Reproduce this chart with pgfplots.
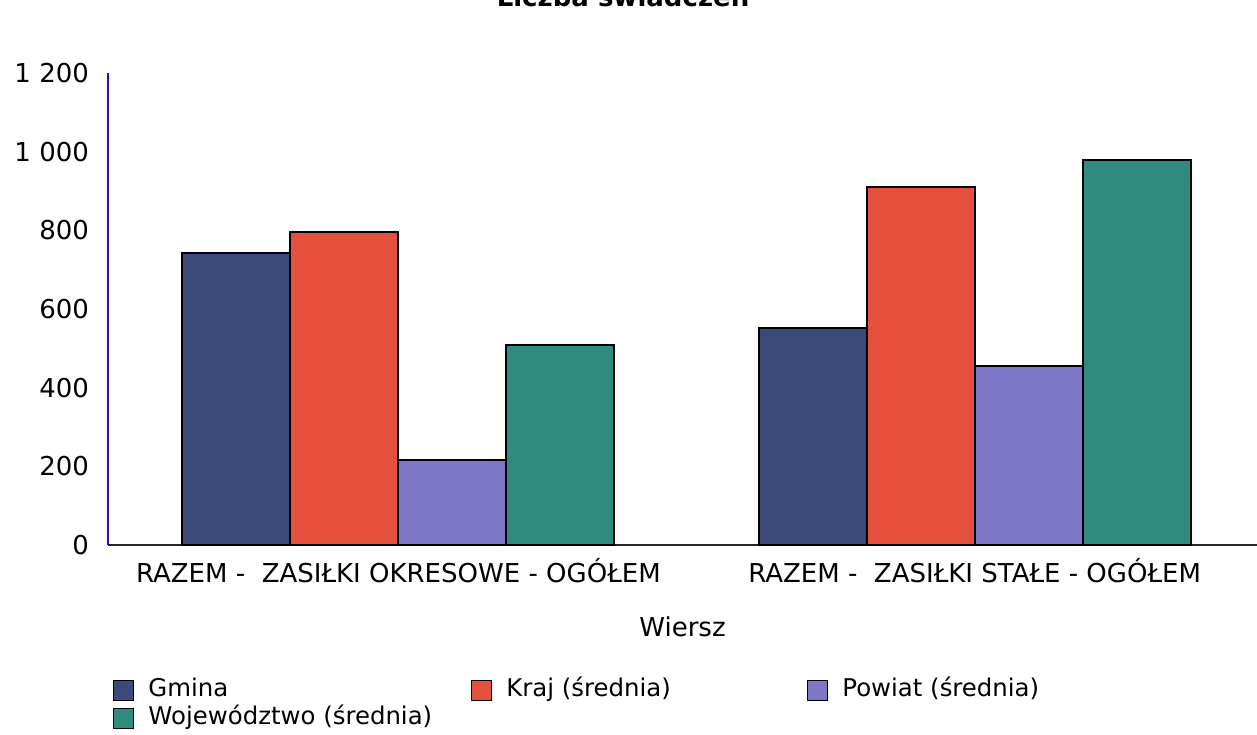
\documentclass[border=0pt]{standalone}
\usepackage{pgfplots}
\pgfplotsset{compat=1.18}
\usepackage{pgfplotstable}
\usepackage{fontspec}
\setmainfont{DejaVu Sans}

\definecolor{cGmina}{HTML}{3A4A7A}
\definecolor{cKraj}{HTML}{E4503C}
\definecolor{cPowiat}{HTML}{7E76C6}
\definecolor{cWoj}{HTML}{2F8A80}

% wartosci
\pgfplotstableread{
x Gmina Kraj Powiat Woj
0 742 796 216 508
1 552 910 455 979
}\dane

\begin{document}
\begin{tikzpicture}
\begin{axis}[
    at={(0pt,0pt)}, anchor=south west,
    scale only axis,
    width=574.5pt, height=236pt,
    ybar=0pt, bar width=54pt,
    xmin=-0.504, xmax=1.49,
    ymin=0, ymax=1200,
    xtick={0,1},
    xticklabels={RAZEM -\ \ ZASIŁKI OKRESOWE - OGÓŁEM, RAZEM -\ \ ZASIŁKI STAŁE - OGÓŁEM},
    ytick={0,200,...,1200},
    major tick length=0pt,
    axis x line*=bottom, axis y line*=left,
    x axis line style={black!85, line width=1.2pt},
    y axis line style={color=blue!55!violet, line width=0.7pt},
    /pgf/number format/assume math mode=true,
    /pgf/number format/1000 sep={\ },
    ticklabel style={font=\fontsize{13}{15}\selectfont},
    yticklabel style={xshift=-6pt},
    xticklabel style={inner sep=0pt, text height=9.5pt, yshift=-9pt},
    xlabel={Wiersz},
    xlabel style={at={(axis description cs:0.5,0)}, anchor=north, yshift=-36pt,
        inner sep=0pt, text height=9.5pt, font=\fontsize{13}{15}\selectfont},
    legend columns=3,
    legend cell align=left,
    legend style={at={(axis description cs:0.0044,-0.282)}, anchor=north west,
        draw=none, fill=none, inner sep=0pt, row sep=2pt, column sep=0pt,
        font=\fontsize{12.2}{14}\selectfont,
        nodes={inner sep=0pt, text height=9pt, text depth=3pt}},
    sq/.style={legend image code/.code={
        \draw[##1, draw=black, line width=0.5pt] (0pt,-5pt) rectangle (10pt,5pt);}},
]
\addplot[fill=cGmina, draw=black, line width=1pt, sq] table[x=x, y=Gmina] {\dane};
\addplot[fill=cKraj, draw=black, line width=1pt, sq] table[x=x, y=Kraj] {\dane};
\addplot[fill=cPowiat, draw=black, line width=1pt, sq] table[x=x, y=Powiat] {\dane};
\addplot[fill=cWoj, draw=black, line width=1pt, sq] table[x=x, y=Woj] {\dane};
\legend{\makebox[168.5pt][l]{\hspace{7pt}Gmina},
    \makebox[157.5pt][l]{\hspace{7pt}Kraj (średnia)},
    \hspace{7pt}Powiat (średnia),
    \hspace{7pt}Województwo (średnia)}
\end{axis}
\node[anchor=base, font=\bfseries\fontsize{13}{15}\selectfont] at (257.5pt,269pt) {Liczba świadczeń};
\pgfresetboundingbox
\useasboundingbox (-54pt,-94.5pt) rectangle (574.5pt,272.5pt);
\end{tikzpicture}
\end{document}
